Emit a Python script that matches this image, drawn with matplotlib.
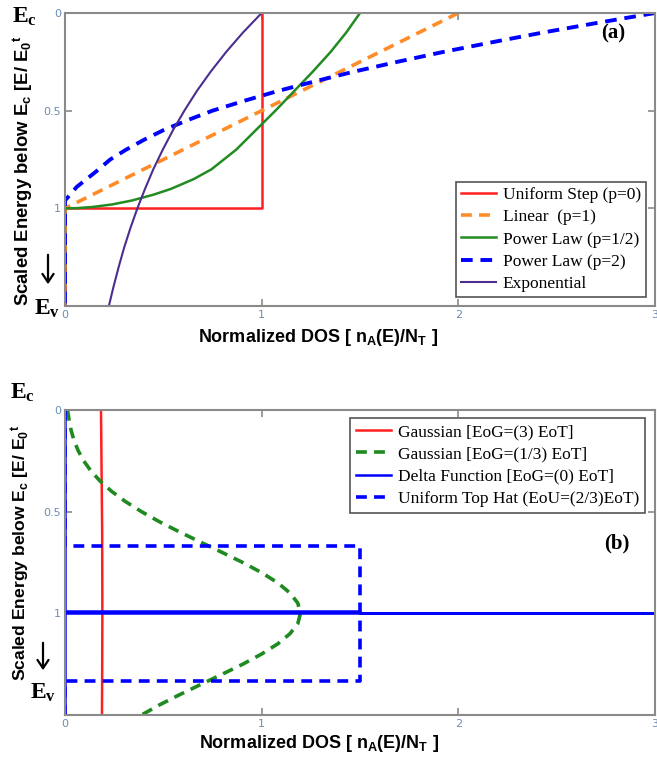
import matplotlib
matplotlib.use("Agg")
import matplotlib.pyplot as plt
from matplotlib.patches import FancyArrowPatch

plt.rcParams['mathtext.fontset'] = 'custom'
plt.rcParams['mathtext.rm'] = 'Liberation Sans:bold'
plt.rcParams['mathtext.bf'] = 'Liberation Serif:bold'
plt.rcParams['mathtext.default'] = 'rm'

# ---- panel (a): DOS shapes, x = normalized DOS, E = scaled energy below Ec
step_x = [1.0, 1.0, 0.0, 0.0]
step_E = [0.0, 1.0, 1.0, 1.5]

lin_x = [2.0, 0.0, 0.0]
lin_E = [0.0, 1.0, 1.5]

half_x = [1.50, 1.43, 1.35, 1.26, 1.165, 1.07, 0.97, 0.87, 0.745, 0.655,
          0.54, 0.45, 0.34, 0.24, 0.14, 0.06, 0.00, 0.00]
half_E = [0.00, 0.10, 0.20, 0.30, 0.40, 0.50, 0.60, 0.70, 0.80, 0.85,
          0.90, 0.93, 0.96, 0.98, 0.993, 0.999, 1.00, 1.50]

sq_x = [3.0, 2.71, 2.43, 2.17, 1.92, 1.69, 1.47, 1.27, 1.08, 0.91,
        0.75, 0.62, 0.50, 0.40, 0.31, 0.23, 0.16, 0.06, 0.0, 0.0]
sq_E = [0.0, 0.05, 0.1, 0.15, 0.2, 0.25, 0.3, 0.35, 0.4, 0.45,
        0.5, 0.55, 0.6, 0.65, 0.7, 0.75, 0.81, 0.89, 0.96, 1.5]

exp_x = [1.0, 0.905, 0.819, 0.741, 0.670, 0.607, 0.549, 0.497,
         0.449, 0.407, 0.368, 0.333, 0.301, 0.273, 0.247, 0.223]
exp_E = [0.0, 0.1, 0.2, 0.3, 0.4, 0.5, 0.6, 0.7,
         0.8, 0.9, 1.0, 1.1, 1.2, 1.3, 1.4, 1.5]

# ---- panel (b)
wide_x = [0.183, 0.186, 0.189, 0.190, 0.189, 0.188]
wide_E = [0.0, 0.3, 0.6, 1.0, 1.3, 1.5]

narrow_E = [0.0, 0.05, 0.1, 0.15, 0.2, 0.25, 0.3, 0.35, 0.4, 0.45, 0.5,
            0.55, 0.6, 0.65, 0.7, 0.75, 0.8, 0.85, 0.9, 0.95, 1.0,
            1.05, 1.1, 1.15, 1.2, 1.25, 1.3, 1.35, 1.4, 1.45, 1.5]
narrow_x = [0.013, 0.021, 0.031, 0.046, 0.067, 0.095, 0.132, 0.179, 0.237,
            0.307, 0.389, 0.481, 0.583, 0.690, 0.798, 0.904, 1.000, 1.082,
            1.144, 1.184, 1.197, 1.184, 1.144, 1.082, 1.000, 0.904, 0.798,
            0.690, 0.583, 0.481, 0.389]

delta_x = [0.0, 0.0, 1.5, 1.5, 3.1, 0.0, 0.0]
delta_E = [0.0, 0.988, 0.988, 1.0, 1.0, 1.0, 1.5]

hat_x = [0.0, 0.0, 1.5, 1.5, 0.0, 0.0]
hat_E = [0.0, 0.667, 0.667, 1.333, 1.333, 1.5]

tick_col = '#6a8db5'
spine_col = '#8a8a8a'

fig = plt.figure(figsize=(6.57, 7.6), dpi=100)
ax1 = fig.add_axes([65/657, 1-306/760, 590/657, 293/760])
ax2 = fig.add_axes([65/657, 1-715/760, 590/657, 305/760])

ax1.plot(step_x, step_E, color='#ff2020', lw=1.8, label='Uniform Step (p=0)')
ax1.plot(lin_x, lin_E, color='#ff8c2a', lw=2.6, dashes=(3, 2), label='Linear  (p=1)')
ax1.plot(half_x, half_E, color='#228b22', lw=1.8, label='Power Law (p=1/2)')
ax1.plot(sq_x, sq_E, color='#0000ff', lw=2.8, dashes=(3, 2), label='Power Law (p=2)')
ax1.plot(exp_x, exp_E, color='#4b2d8f', lw=1.5, label='Exponential')

ax2.plot(wide_x, wide_E, color='#ff2020', lw=1.8, label='Gaussian [EoG=(3) EoT]')
ax2.plot(narrow_x, narrow_E, color='#1f8a1f', lw=2.6, dashes=(3, 2), label='Gaussian [EoG=(1/3) EoT]')
ax2.plot(delta_x, delta_E, color='#0000ff', lw=1.8, label='Delta Function [EoG=(0) EoT]')
ax2.plot(hat_x, hat_E, color='#0000ff', lw=2.6, dashes=(3, 2), label='Uniform Top Hat (EoU=(2/3)EoT)')

for ax in (ax1, ax2):
    ax.set_xlim(0, 3)
    ax.set_ylim(1.5, 0)
    ax.set_xticks([0, 1, 2, 3])
    ax.set_xticklabels(['0', '1', '2', '3'])
    ax.set_yticks([0, 0.5, 1])
    ax.set_yticklabels(['0', '0.5', '1'])
    ax.tick_params(direction='in', length=5, width=1.2, color=spine_col,
                   labelsize=8, labelcolor=tick_col, top=True, right=True, pad=3)
    for s in ax.spines.values():
        s.set_color(spine_col)
        s.set_linewidth(1.5)

leg1 = ax1.legend(loc='lower right', bbox_to_anchor=(0.985, 0.03), borderaxespad=0,
                  prop={'family': 'Liberation Serif', 'size': 12.5}, fancybox=False,
                  framealpha=1, edgecolor='#555555', handlelength=2.0,
                  labelspacing=0.35, handletextpad=0.4, borderpad=0.3)
leg1.get_frame().set_linewidth(1.2)
leg2 = ax2.legend(loc='upper right', bbox_to_anchor=(0.983, 0.974), borderaxespad=0,
                  prop={'family': 'Liberation Serif', 'size': 12.5}, fancybox=False,
                  framealpha=1, edgecolor='#555555', handlelength=2.0,
                  labelspacing=0.35, handletextpad=0.4, borderpad=0.35)
leg2.get_frame().set_linewidth(1.2)

ylab = r'Scaled Energy below E$_\mathrm{c}$ [E/ E$_\mathrm{0}$$^\mathrm{t}$'
xlab = r'Normalized DOS [ n$_\mathrm{A}$(E)/N$_\mathrm{T}$ ]'
fig.text(23/657, 1-171/760, ylab, rotation=90, ha='center', va='center',
         family='Liberation Sans', weight='bold', fontsize=13.3)
fig.text(21/657, 1-553/760, ylab, rotation=90, ha='center', va='center',
         family='Liberation Sans', weight='bold', fontsize=12.6)
fig.text(318/657, 1-338/760, xlab, ha='center', va='center',
         family='Liberation Sans', weight='bold', fontsize=13)
fig.text(319/657, 1-743/760, xlab, ha='center', va='center',
         family='Liberation Sans', weight='bold', fontsize=13)

for (x, y, s) in [(12, 16, r'$\mathbf{E_c}$'), (34, 308, r'$\mathbf{E_v}$'),
                  (10, 392, r'$\mathbf{E_c}$'), (30, 692, r'$\mathbf{E_v}$')]:
    fig.text(x/657, 1-y/760, s, ha='left', va='center', fontsize=17)
for (x, y0, y1) in [(48, 252, 287), (43, 640, 673)]:
    fig.add_artist(FancyArrowPatch(
        (x/657, 1-y0/760), (x/657, 1-y1/760), transform=fig.transFigure,
        arrowstyle='->,head_length=6,head_width=4', color='black', lw=1.6,
        mutation_scale=1))
fig.text(613/657, 1-33/760, '(a)', ha='center', va='center',
         family='Liberation Serif', weight='bold', fontsize=15)
fig.text(617/657, 1-543/760, '(b)', ha='center', va='center',
         family='Liberation Serif', weight='bold', fontsize=15)

fig.savefig('out.png', dpi=100)
